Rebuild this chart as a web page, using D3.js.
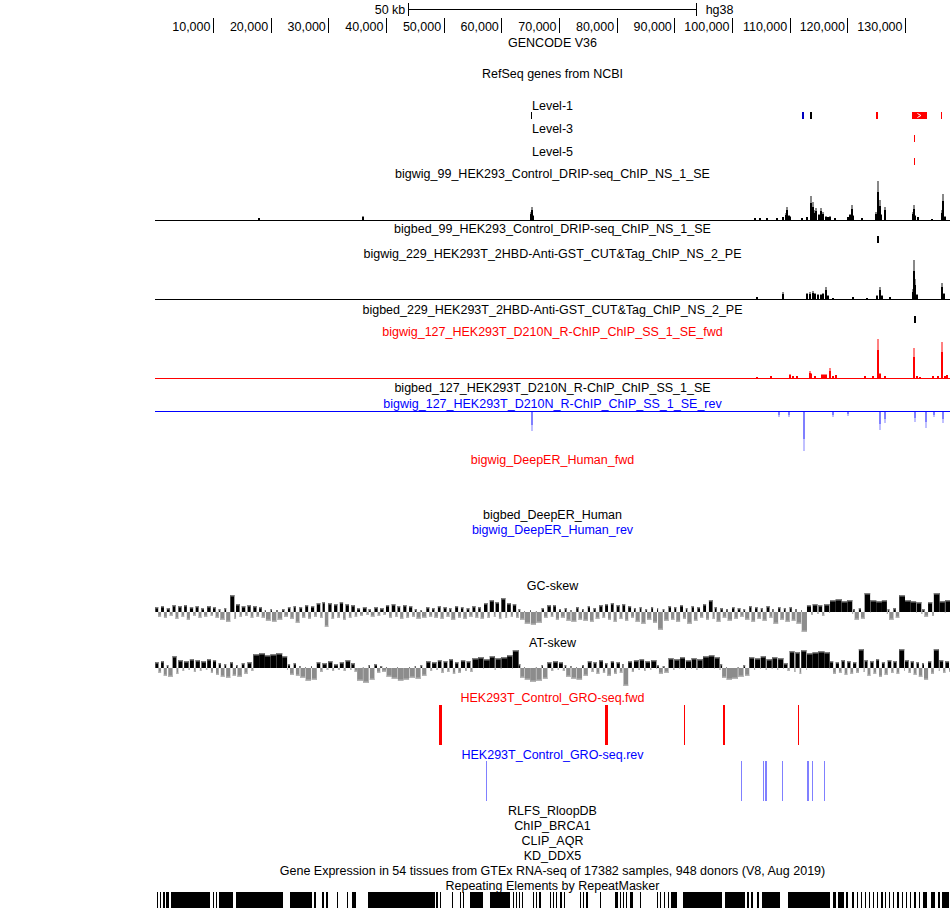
<!DOCTYPE html>
<html><head><meta charset="utf-8">
<script src="https://cdn.jsdelivr.net/npm/d3@7"></script>
<style>body{margin:0;background:#fff} svg{display:block} text{font-family:"Liberation Sans",Arial,sans-serif;font-size:12.5px}</style>
</head><body><svg id="c" width="950" height="908"></svg>
<script>
// ---------- DATA (genomic positions in kb) ----------
const domainKb = [0, 137.75];
const tickKb = [10,20,30,40,50,60,70,80,90,100,110,120,130];
const scaleBarKb = 50;
const level1Genes = [ {s:65.1,e:65.4,c:"#000"}, {s:112.2,e:112.4,c:"#0000c0"}, {s:113.6,e:113.8,c:"#000"}, {s:125.0,e:125.3,c:"#f00"}, {s:131.2,e:133.8,c:"#f00",arrow:true}, {s:136.3,e:136.5,c:"#f00"} ];
const level3Genes = [ {s:131.5,e:131.7,c:"#f00"} ];
const level5Genes = [ {s:131.5,e:131.7,c:"#f00"} ];
const drip99 = [[18.0,2],[36.0,4],[65.1,8],[65.3,13],[65.5,5],[104.0,2],[104.8,2],[106.1,2],[107.8,1.5],[108.8,3],[109.3,7],[109.5,13],[109.8,5],[110.1,4],[112.1,2],[113.0,3],[113.7,24],[114.0,18],[114.3,10],[114.6,12],[115.0,6],[115.4,12],[115.8,8],[116.3,4],[116.6,3],[117.0,4],[117.9,2],[120.1,3],[120.5,6],[120.8,15],[121.0,5],[122.5,2],[125.0,8],[125.3,39],[125.6,20],[125.9,6],[126.5,13],[131.3,8],[131.5,15],[131.8,5],[132.2,3],[134.6,1],[136.4,10],[136.6,26],[136.9,4]];
const bed99 = [[125.1,125.4]];
const cut229 = [[104.3,2],[108.9,7],[113.0,6],[113.5,7],[114.1,8],[114.4,6],[114.9,5],[115.4,5],[115.8,6],[116.3,12],[116.6,4],[117.5,1],[121.0,2],[123.4,1],[125.1,4],[125.7,12],[126.0,4],[127.4,2],[131.3,10],[131.6,39],[131.8,20],[132.0,5],[136.5,16],[136.7,6]];
const bed229 = [[131.5,131.8]];
const rchipFwd = [[104.3,1],[106.7,2],[110.1,4],[110.5,2],[111.3,2],[113.5,7],[113.7,5],[114.4,2],[115.6,4],[116.0,4],[116.3,4],[117.0,10],[117.5,2],[118.0,3],[123.1,2],[124.5,2],[125.4,39],[125.7,5],[126.5,2],[131.6,30],[132.0,2],[132.6,1],[134.9,2],[135.8,2],[136.5,36],[136.9,2],[137.2,3]];
const rchipRev = [[65.3,20],[108.2,6],[109.8,6],[112.5,40],[117.6,6],[120.2,5],[125.7,19],[126.6,12],[131.7,11],[133.6,17],[135.0,6],[136.6,12]];
// skew tracks: 1-kb bins, max (up) and min (down) magnitudes
const gcMax = [5,6,4,7,6,7,5,6,4,6, 5,3,4,17,8,6,7,6,5,2, 3,2,3,5,6,5,7,6,9,10, 9,8,10,8,7,4,5,3,5,4, 7,8,6,7,6,3,2,5,4,6, 5,4,6,5,4,6,5,9,12,10, 14,9,8,3,1,2,1,4,7,7, 3,4,2,5,3,6,4,7,8,9, 7,8,6,4,5,3,5,4,3,6, 5,7,4,6,5,8,12,5,4,3, 5,4,3,6,5,4,6,3,5,4, 5,3,2,7,8,7,8,12,13,11, 12,3,4,19,12,11,12,3,4,17, 12,11,10,3,10,19,11,12];
const gcMin = [5,6,4,7,5,8,4,6,5,4, 6,8,10,7,5,4,6,5,6,9, 10,8,5,7,11,6,7,5,6,15, 7,6,8,6,5,4,3,5,4,3, 6,5,7,6,5,7,6,5,6,7, 5,8,6,7,5,6,7,6,5,7, 6,5,6,8,12,13,11,6,5,8, 6,9,10,8,9,10,7,6,8,10, 7,9,6,10,12,8,11,18,9,8, 10,7,12,9,6,8,7,10,6,9, 7,5,8,10,7,9,6,12,8,10, 9,12,20,3,2,4,1,0,0,0, 2,8,7,1,0,0,2,8,6,0, 0,1,2,5,4,0,1,0];
const atMax = [6,7,3,12,8,7,9,8,7,9, 8,5,4,6,3,5,6,14,15,13, 14,15,12,4,5,2,1,2,6,5, 7,4,6,8,5,0,1,3,4,2, 1,0,1,0,1,2,3,7,6,8, 7,9,6,8,7,10,11,9,12,10, 11,13,18,4,1,0,1,3,6,7, 6,3,2,1,3,7,6,8,5,7, 6,4,7,8,9,7,8,3,2,10, 9,11,8,10,9,12,13,11,4,1, 0,1,3,11,10,12,9,11,10,5, 17,16,18,15,16,17,16,7,6,8, 7,6,19,8,7,9,6,8,7,19, 8,7,6,5,7,19,8,7];
const atMin = [5,8,9,6,3,2,4,3,2,5, 7,9,10,8,9,6,3,0,0,0, 0,0,2,7,8,10,13,12,4,2, 3,2,3,2,4,13,15,12,5,4, 9,11,13,12,10,11,8,3,2,5, 4,6,5,3,4,0,1,0,2,1, 0,1,0,10,12,14,13,11,3,2, 3,9,11,12,8,4,6,5,8,6, 5,18,4,2,3,2,1,6,5,2, 1,2,1,2,1,0,1,2,10,12, 11,9,8,2,1,2,1,2,1,3, 4,6,2,0,0,0,1,6,5,7, 6,5,4,8,6,9,7,5,6,3, 5,7,9,12,6,3,5,4];
const groFwd = [[49.2,49.7],[78.0,78.5],[91.6,91.9],[98.5,98.8],[111.5,111.7]];
const groRev = [[57.4,57.6],[101.5,101.8],[105.4,105.6],[105.8,106.0],[108.7,108.9],[113.0,113.3],[113.9,114.1],[115.9,116.2]];
const repeats = [[0.21,0.47],[0.73,0.99],[1.34,1.60],[1.86,2.38],[2.64,9.49],[9.92,10.18],[10.44,10.70],[11.05,13.47],[13.99,22.14],[23.36,27.17],[27.52,27.87],[28.91,29.25],[29.60,29.95],[31.51,31.68],[33.24,33.41],[34.11,34.80],[36.88,48.50],[48.67,49.02],[49.36,49.54],[51.45,51.62],[52.83,53.01],[53.35,53.53],[54.57,56.82],[58.04,61.50],[62.02,62.20],[62.54,62.72],[63.07,63.24],[63.59,63.76],[65.49,65.67],[66.01,66.19],[66.53,66.88],[68.44,68.62],[68.96,69.14],[69.49,69.66],[70.18,70.53],[70.87,71.05],[73.65,73.82],[74.17,74.34],[74.69,75.04],[77.12,77.29],[79.72,80.24],[80.58,80.76],[81.10,81.28],[81.62,81.80],[82.32,82.84],[84.05,84.22],[86.99,87.17],[87.51,87.69],[88.21,88.38],[88.90,89.07],[89.42,90.46],[91.50,98.26],[98.78,102.25],[102.60,102.95],[103.29,103.64],[104.34,104.68],[105.20,108.32],[109.71,116.99],[117.51,118.03],[118.38,119.42],[119.77,120.11],[120.81,121.15],[121.67,121.85],[122.37,122.54],[123.06,123.24],[123.76,123.93],[124.45,124.63],[125.15,125.32],[125.84,126.19],[126.53,126.71],[127.23,127.40],[127.92,128.10],[128.62,128.97],[129.49,129.66],[130.18,130.35],[130.87,131.05],[131.57,131.92],[132.44,132.61],[133.13,133.82],[134.51,135.21],[135.73,136.07],[136.42,137.63]];

// ---------- DRAW ----------
const svg = d3.select("#c");
const x = d3.scaleLinear().domain(domainKb).range([155.3, 949.7]);
const cx = (x.range()[0] + x.range()[1]) / 2;
const fmt = d3.format(",");

function label(y, t, color) {
  svg.append("text").attr("x", cx).attr("y", y).attr("text-anchor", "middle").attr("fill", color || "#000").text(t);
}

// scale bar
const mid = (domainKb[0] + domainKb[1]) / 2;
const sb = svg.append("g").attr("stroke", "#000").attr("stroke-width", 1).attr("shape-rendering", "crispEdges");
sb.append("line").attr("x1", x(mid - scaleBarKb/2)).attr("x2", x(mid + scaleBarKb/2)).attr("y1", 9.5).attr("y2", 9.5);
sb.append("line").attr("x1", x(mid - scaleBarKb/2)).attr("x2", x(mid - scaleBarKb/2)).attr("y1", 3).attr("y2", 16);
sb.append("line").attr("x1", x(mid + scaleBarKb/2)).attr("x2", x(mid + scaleBarKb/2)).attr("y1", 3).attr("y2", 16);
svg.append("text").attr("x", x(mid - scaleBarKb/2) - 3).attr("y", 13.5).attr("text-anchor", "end").text(scaleBarKb + " kb");
svg.append("text").attr("x", x(mid + scaleBarKb/2) + 9).attr("y", 13.5).text("hg38");

// base position axis
const ax = svg.append("g").attr("transform", "translate(0,18)")
  .call(d3.axisBottom(x).tickValues(tickKb).tickSize(15).tickFormat(d => fmt(d * 1000)));
ax.select(".domain").remove();
ax.selectAll("line").attr("stroke", "#000").attr("shape-rendering", "crispEdges");
ax.selectAll("text").attr("dy", null).attr("y", 13).attr("x", -3).attr("text-anchor", "end")
  .attr("font-family", "Liberation Sans, Arial, sans-serif").attr("font-size", 13).attr("fill", "#000");

label(47, "GENCODE V36");
label(78, "RefSeq genes from NCBI");

function genes(arr, y0, h) {
  const g = svg.append("g").attr("shape-rendering", "crispEdges");
  g.selectAll("rect").data(arr).join("rect")
    .attr("x", d => x(d.s)).attr("y", y0).attr("width", d => Math.max(1, x(d.e) - x(d.s))).attr("height", h)
    .attr("fill", d => d.c);
  arr.filter(d => d.arrow).forEach(d => {
    const m = (x(d.s) + x(d.e)) / 2;
    svg.append("polyline").attr("points", `${m-2},${y0+1.5} ${m+1.5},${y0+h/2} ${m-2},${y0+h-1.5}`)
      .attr("fill", "none").attr("stroke", "#fff").attr("stroke-width", 1);
  });
}
label(110, "Level-1"); genes(level1Genes, 112, 7);
label(133, "Level-3"); genes(level3Genes, 135, 7);
label(156, "Level-5"); genes(level5Genes, 158, 7);

function bigwig(data, base, dark, light, dir, lineColor) {
  const y = d3.scaleLinear().domain([0, 40]).range([0, 40]);
  const g = svg.append("g").attr("shape-rendering", "crispEdges");
  g.selectAll("rect.l").data(data).join("rect").attr("class", "l")
    .attr("x", d => Math.round(x(d[0])) - 1).attr("width", 2)
    .attr("y", d => dir > 0 ? base - y(d[1]) : base).attr("height", d => y(d[1])).attr("fill", light);
  g.selectAll("rect.d").data(data).join("rect").attr("class", "d")
    .attr("x", d => Math.round(x(d[0])) - 1).attr("width", 2)
    .attr("y", d => dir > 0 ? base - y(d[1]) * 0.7 : base).attr("height", d => y(d[1]) * 0.7).attr("fill", dark);
  svg.append("line").attr("x1", x.range()[0]).attr("x2", x.range()[1]).attr("y1", base + 0.5).attr("y2", base + 0.5)
    .attr("stroke", lineColor).attr("shape-rendering", "crispEdges");
}
function bigbed(arr, y0, color) {
  svg.append("g").attr("shape-rendering", "crispEdges").selectAll("rect").data(arr).join("rect")
    .attr("x", d => x(d[0])).attr("y", y0).attr("width", d => Math.max(2, x(d[1]) - x(d[0]))).attr("height", 7).attr("fill", color);
}

label(178, "bigwig_99_HEK293_Control_DRIP-seq_ChIP_NS_1_SE");
bigwig(drip99, 219.5, "#000", "#888", 1, "#000");
label(233, "bigbed_99_HEK293_Control_DRIP-seq_ChIP_NS_1_SE");
bigbed(bed99, 236, "#000");
label(258, "bigwig_229_HEK293T_2HBD-Anti-GST_CUT&Tag_ChIP_NS_2_PE");
bigwig(cut229, 298.5, "#000", "#888", 1, "#000");
label(314, "bigbed_229_HEK293T_2HBD-Anti-GST_CUT&Tag_ChIP_NS_2_PE");
bigbed(bed229, 316, "#000");
label(336, "bigwig_127_HEK293T_D210N_R-ChIP_ChIP_SS_1_SE_fwd", "#f00");
bigwig(rchipFwd, 377.5, "#f00", "#ff8080", 1, "#f00");
label(392, "bigbed_127_HEK293T_D210N_R-ChIP_ChIP_SS_1_SE");
label(408, "bigwig_127_HEK293T_D210N_R-ChIP_ChIP_SS_1_SE_rev", "#00f");
bigwig(rchipRev, 410.5, "#7f7fff", "#c0c0ff", -1, "#00f");
label(464, "bigwig_DeepER_Human_fwd", "#f00");
label(519, "bigbed_DeepER_Human");
label(534, "bigwig_DeepER_Human_rev", "#00f");

// skew: each 1-kb bin is split between its up part (left) and down part (right), width proportional to magnitude
function skew(maxArr, minArr, base) {
  const y = d3.scaleLinear().domain([0, 20]).range([0, 20]);
  const band = d3.scaleBand().domain(d3.range(maxArr.length)).range([x(0), x(maxArr.length)]).padding(0);
  const bins = maxArr.map((v, i) => {
    const tot = v + minArr[i] || 1;
    const w = band.bandwidth();
    const wp = w * v / tot;
    return { i, up: v, dn: minArr[i], x0: band(i), wp, wn: w - wp };
  });
  const g = svg.append("g");
  g.selectAll("rect.p").data(bins.filter(b => b.up > 0)).join("rect").attr("class", "p")
    .attr("x", b => b.x0).attr("width", b => b.wp)
    .attr("y", b => base - y(b.up)).attr("height", b => y(b.up)).attr("fill", "#000");
  g.selectAll("rect.pt").data(bins.filter(b => b.up > 0)).join("rect").attr("class", "pt")
    .attr("x", b => b.x0).attr("width", b => b.wp)
    .attr("y", b => base - y(b.up)).attr("height", 1.5).attr("fill", "#808080");
  g.selectAll("rect.n").data(bins.filter(b => b.dn > 0)).join("rect").attr("class", "n")
    .attr("x", b => b.x0 + b.wp).attr("width", b => b.wn)
    .attr("y", base).attr("height", b => y(b.dn)).attr("fill", "#8c8c8c");
  g.selectAll("rect.nt").data(bins.filter(b => b.dn > 0)).join("rect").attr("class", "nt")
    .attr("x", b => b.x0 + b.wp).attr("width", b => b.wn)
    .attr("y", b => base + y(b.dn) - 1.5).attr("height", 1.5).attr("fill", "#b4b4b4");
}
label(590, "GC-skew");
skew(gcMax, gcMin, 612);
label(647, "AT-skew");
skew(atMax, atMin, 668);

function gro(arr, y0, color) {
  svg.append("g").attr("shape-rendering", "crispEdges").selectAll("rect").data(arr).join("rect")
    .attr("x", d => x(d[0])).attr("y", y0).attr("width", d => Math.max(1, x(d[1]) - x(d[0]))).attr("height", 40).attr("fill", color);
}
label(702, "HEK293T_Control_GRO-seq.fwd", "#f00");
gro(groFwd, 705, "#f00");
label(759, "HEK293T_Control_GRO-seq.rev", "#00f");
gro(groRev, 761, "#8080ff");

label(815, "RLFS_RloopDB");
label(830, "ChIP_BRCA1");
label(845, "CLIP_AQR");
label(860, "KD_DDX5");
label(875, "Gene Expression in 54 tissues from GTEx RNA-seq of 17382 samples, 948 donors (V8, Aug 2019)");
label(890, "Repeating Elements by RepeatMasker");
svg.append("g").attr("shape-rendering", "crispEdges").selectAll("rect").data(repeats).join("rect")
  .attr("x", d => x(d[0])).attr("y", 892).attr("width", d => Math.max(1, x(d[1]) - x(d[0]))).attr("height", 16).attr("fill", "#000");
</script></body></html>
